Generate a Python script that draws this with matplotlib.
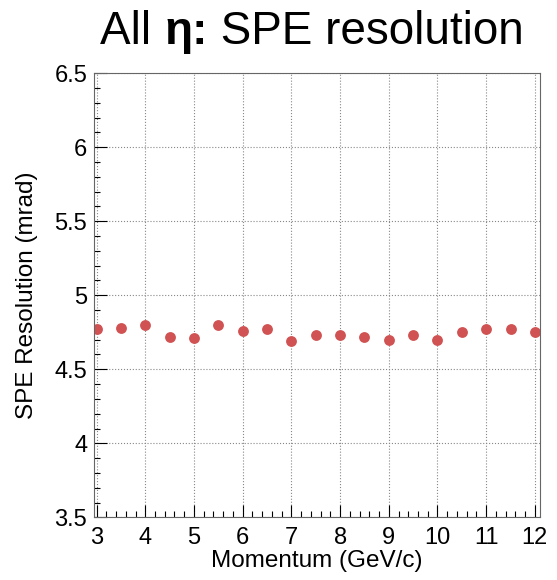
import matplotlib
matplotlib.use("Agg")
import matplotlib.pyplot as plt
from matplotlib.ticker import MultipleLocator

plt.rcParams['font.family'] = ['Liberation Sans', 'DejaVu Sans']

# momentum (GeV/c) and SPE resolution (mrad)
momentum = [3, 3.5, 4, 4.5, 5, 5.5, 6, 6.5, 7, 7.5, 8, 8.5, 9, 9.5, 10, 10.5, 11, 11.5, 12]
resolution = [4.77, 4.78, 4.80, 4.72, 4.71, 4.80, 4.76, 4.77, 4.69, 4.73, 4.73, 4.72,
              4.70, 4.73, 4.70, 4.75, 4.77, 4.77, 4.75]

fig = plt.figure(figsize=(5.57, 5.80), dpi=100)
ax = fig.add_axes([0.169, 0.108, 0.800, 0.766])

ax.plot(momentum, resolution, 'o', color='#d05252', markersize=7.8, markeredgewidth=0)

ax.set_xlim(2.95, 12.1)
ax.set_ylim(3.5, 6.5)
ax.xaxis.set_major_locator(MultipleLocator(1))
ax.xaxis.set_minor_locator(MultipleLocator(0.2))
ax.yaxis.set_major_locator(MultipleLocator(0.5))
ax.yaxis.set_minor_locator(MultipleLocator(0.1))
ax.yaxis.set_major_formatter(matplotlib.ticker.FormatStrFormatter('%g'))
ax.tick_params(which='major', direction='in', length=9, width=0.8, labelsize=17)
ax.tick_params(which='minor', direction='in', length=4.5, width=0.8)
ax.tick_params(axis='x', pad=7)
ax.tick_params(axis='y', pad=5)
ax.grid(True, which='major', linestyle=':', color='#888888', linewidth=0.8)
for s in ax.spines.values():
    s.set_color('#666666')
    s.set_linewidth(0.8)

ax.set_xlabel('Momentum (GeV/c)', fontsize=17.5, labelpad=1)
ax.set_ylabel('SPE Resolution (mrad)', fontsize=17.5, labelpad=12)

# title in pieces so only "η:" is bold
t1 = fig.text(0.18, 0.925, 'All ', fontsize=33, ha='left', va='baseline')
t2 = fig.text(0, 0, 'η:', fontsize=33, fontweight='bold', ha='left', va='baseline')
t3 = fig.text(0, 0, ' SPE resolution', fontsize=33, ha='left', va='baseline')
fig.canvas.draw()
r = fig.canvas.get_renderer()
bb = t1.get_window_extent(r)
t2.set_position((bb.x1 / fig.bbox.width, 0.925))
fig.canvas.draw()
bb2 = t2.get_window_extent(r)
t3.set_position((bb2.x1 / fig.bbox.width, 0.925))

fig.savefig('out.png', dpi=100)
